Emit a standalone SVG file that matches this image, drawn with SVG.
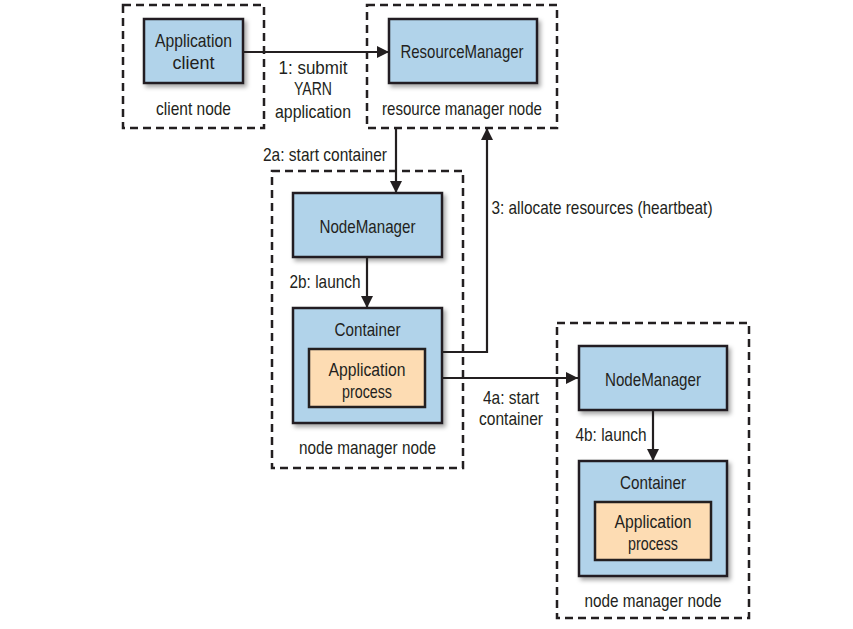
<svg xmlns="http://www.w3.org/2000/svg" width="853" height="629" viewBox="0 0 853 629">
  <style>
    text { font-family: "Liberation Sans", Arial, sans-serif; font-size: 19px; fill: #231f20; text-anchor: middle; dominant-baseline: central; }
    .host { fill: none; stroke: #231f20; stroke-width: 2.5; stroke-dasharray: 8 5; }
    .svc { fill: #b1d3ea; stroke: #231f20; stroke-width: 2.5; filter: url(#shadow); }
    .proc { fill: #fddcb3; stroke: #231f20; stroke-width: 2.5; }
    .link { fill: none; stroke: #231f20; stroke-width: 2.2; marker-end: url(#arrow); }
  </style>
  <defs>
    <filter id="shadow" x="-10%" y="-10%" width="130%" height="140%">
      <feDropShadow dx="2.5" dy="3" stdDeviation="2" flood-color="#000" flood-opacity="0.35"/>
    </filter>
    <marker id="arrow" viewBox="0 0 12 12" refX="12" refY="6" markerWidth="12" markerHeight="12" markerUnits="userSpaceOnUse" orient="auto">
      <path d="M0,0 L12,6 L0,12 Z" fill="#231f20"/>
    </marker>
  </defs>
  <rect width="853" height="629" fill="#ffffff"/>

  <!-- client node -->
  <g id="client-node">
    <rect class="host" x="123" y="5" width="141" height="123"/>
    <rect class="svc" x="144" y="19" width="99" height="64"/>
    <text x="193.5" y="40" textLength="77" lengthAdjust="spacingAndGlyphs">Application</text>
    <text x="193.5" y="62" textLength="42" lengthAdjust="spacingAndGlyphs">client</text>
    <text x="193.5" y="108" textLength="75" lengthAdjust="spacingAndGlyphs">client node</text>
  </g>

  <!-- resource manager node -->
  <g id="resource-manager-node">
    <rect class="host" x="367" y="5" width="190" height="123"/>
    <rect class="svc" x="389" y="19" width="148" height="64"/>
    <text x="462" y="51" textLength="123" lengthAdjust="spacingAndGlyphs">ResourceManager</text>
    <text x="462" y="108" textLength="160" lengthAdjust="spacingAndGlyphs">resource manager node</text>
  </g>

  <!-- first node manager node -->
  <g id="node-manager-node-1">
    <rect class="host" x="272" y="171" width="191" height="297"/>
    <rect class="svc" x="293" y="193" width="149" height="64"/>
    <text x="367.5" y="226" textLength="96" lengthAdjust="spacingAndGlyphs">NodeManager</text>
    <rect class="svc" x="293" y="308" width="149" height="115"/>
    <text x="367.5" y="329" textLength="66" lengthAdjust="spacingAndGlyphs">Container</text>
    <rect class="proc" x="309" y="349" width="116" height="58"/>
    <text x="367" y="369" textLength="77" lengthAdjust="spacingAndGlyphs">Application</text>
    <text x="367" y="391" textLength="50" lengthAdjust="spacingAndGlyphs">process</text>
    <text x="367.5" y="447" textLength="137" lengthAdjust="spacingAndGlyphs">node manager node</text>
  </g>

  <!-- second node manager node -->
  <g id="node-manager-node-2">
    <rect class="host" x="557" y="323" width="192" height="295"/>
    <rect class="svc" x="579" y="346" width="148" height="64"/>
    <text x="653" y="379" textLength="96" lengthAdjust="spacingAndGlyphs">NodeManager</text>
    <rect class="svc" x="579" y="461" width="148" height="115"/>
    <text x="653" y="482" textLength="66" lengthAdjust="spacingAndGlyphs">Container</text>
    <rect class="proc" x="595" y="502" width="116" height="58"/>
    <text x="653" y="521" textLength="77" lengthAdjust="spacingAndGlyphs">Application</text>
    <text x="653" y="543" textLength="50" lengthAdjust="spacingAndGlyphs">process</text>
    <text x="653" y="600" textLength="137" lengthAdjust="spacingAndGlyphs">node manager node</text>
  </g>

  <!-- connectors -->
  <g id="connectors">
    <path class="link" d="M243,52 H389"/>
    <path class="link" d="M396,128 V193"/>
    <path class="link" d="M367,257 V308"/>
    <path class="link" d="M442,352 H487 V128"/>
    <path class="link" d="M442,378 H578"/>
    <path class="link" d="M653,410 V461"/>

    <text x="313" y="67" textLength="69" lengthAdjust="spacingAndGlyphs">1: submit</text>
    <text x="313" y="88" textLength="38" lengthAdjust="spacingAndGlyphs">YARN</text>
    <text x="313" y="111" textLength="76" lengthAdjust="spacingAndGlyphs">application</text>
    <text x="325" y="154" textLength="124" lengthAdjust="spacingAndGlyphs">2a: start container</text>
    <text x="325" y="281" textLength="71" lengthAdjust="spacingAndGlyphs">2b: launch</text>
    <text x="602" y="207" textLength="221" lengthAdjust="spacingAndGlyphs">3: allocate resources (heartbeat)</text>
    <text x="511" y="397" textLength="56" lengthAdjust="spacingAndGlyphs">4a: start</text>
    <text x="511" y="418" textLength="64" lengthAdjust="spacingAndGlyphs">container</text>
    <text x="611" y="434" textLength="71" lengthAdjust="spacingAndGlyphs">4b: launch</text>
  </g>
</svg>
